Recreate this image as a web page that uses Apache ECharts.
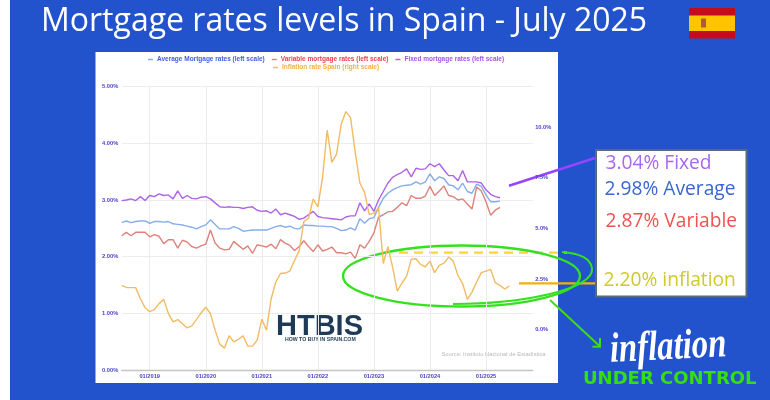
<!DOCTYPE html>
<html><head><meta charset="utf-8">
<style>html,body{margin:0;padding:0;background:#fff}#c{width:770px;height:400px}</style>
<script src="https://cdn.jsdelivr.net/npm/echarts@6/dist/echarts.min.js"></script>
</head><body><div id="c"></div>
<script>
const startYear = 2018, startMonth = 7, monthCount = 89;
const months = [];
for (let i = 0; i < monthCount; i++) {
  const m = (startMonth - 1 + i) % 12 + 1, y = startYear + Math.floor((startMonth - 1 + i) / 12);
  months.push((m < 10 ? '0' : '') + m + '/' + y);
}
const fixedRates = [2.99,3.00,3.02,2.99,3.06,2.99,3.08,3.06,3.11,3.08,
3.09,3.02,3.16,3.03,3.08,3.03,3.02,3.05,3.06,3.02,
2.95,2.88,2.87,2.88,2.87,2.87,2.85,2.87,2.88,2.82,
2.80,2.81,2.77,2.84,2.74,2.77,2.74,2.71,2.66,2.68,
2.74,2.80,2.71,2.69,2.68,2.67,2.66,2.65,2.70,2.72,
2.72,2.95,2.81,2.93,2.80,3.00,3.15,3.30,3.40,3.45,
3.49,3.55,3.41,3.56,3.54,3.55,3.64,3.59,3.64,3.53,
3.43,3.43,3.34,3.52,3.32,3.32,3.32,3.30,3.18,3.10,3.06,3.04];
const averageRates = [2.60,2.63,2.60,2.62,2.63,2.63,2.59,2.62,2.62,2.61,
2.62,2.58,2.57,2.56,2.54,2.52,2.49,2.53,2.56,2.65,
2.57,2.49,2.49,2.49,2.53,2.50,2.45,2.46,2.47,2.47,
2.47,2.47,2.50,2.53,2.55,2.52,2.54,2.50,2.49,2.56,
2.55,2.55,2.54,2.54,2.53,2.53,2.50,2.46,2.47,2.51,
2.47,2.67,2.59,2.67,2.69,2.87,3.03,3.12,3.18,3.22,
3.25,3.26,3.27,3.32,3.28,3.32,3.46,3.34,3.41,3.38,
3.27,3.25,3.18,3.30,3.15,3.12,3.28,3.24,3.09,2.97,2.97,2.98];
const variableRates = [2.37,2.43,2.37,2.43,2.43,2.43,2.35,2.39,2.36,2.23,
2.30,2.30,2.15,2.29,2.26,2.18,2.15,2.19,2.22,2.47,
2.24,2.15,2.12,2.13,2.27,2.20,2.13,2.19,2.06,2.21,
2.19,2.17,2.22,2.14,2.30,2.24,2.20,2.11,2.18,2.28,
2.18,2.09,2.21,2.10,2.13,2.17,2.07,2.07,2.05,2.08,
1.97,2.21,2.15,2.27,2.42,2.70,2.74,2.79,2.80,2.87,
2.95,2.90,3.08,3.03,3.03,3.07,3.24,3.08,3.16,3.25,
3.08,3.06,3.00,3.02,2.93,2.84,3.23,3.16,2.97,2.73,2.82,2.87];
const inflationRates = [2.18,2.08,2.07,2.07,1.52,1.08,0.88,0.98,1.28,1.49,
0.79,0.38,0.49,0.29,0.08,0.18,0.49,0.82,1.10,0.79,
-0.03,-0.72,-0.92,-0.31,-0.61,-0.48,-0.31,-0.82,-0.82,-0.53,
0.51,-0.03,1.52,2.35,2.77,2.79,2.89,3.41,3.90,5.33,
5.50,6.45,6.06,7.52,9.85,8.26,8.67,10.15,10.77,10.47,
8.75,7.24,6.78,5.68,5.75,6.00,3.26,4.10,3.08,1.90,
2.30,2.63,3.48,3.50,3.22,3.10,3.38,2.81,3.17,3.28,
3.58,3.38,2.67,2.27,1.49,1.85,2.35,2.81,2.89,2.97,2.30,2.18,2.00,2.15];
const rightTicks = [0, 2.5, 5, 7.5, 10];

const names = {
  avg: 'Average Mortgage rates (left scale)',
  vari: 'Variable mortgage rates (left scale)',
  fix: 'Fixed mortgage rates (left scale)',
  inf: 'Inflation rate Spain (right scale)'
};
const colors = { avg: '#85aeea', vari: '#de827a', fix: '#ae62e8', inf: '#f2bb62' };
const legendText = { avg: '#3f5fd8', vari: '#e8434f', fix: '#a555e8', inf: '#f2b045' };
const tickFont = { fontFamily: 'Liberation Sans', fontSize: 5.7, fontWeight: 'bold', color: '#4a44c8' };
const isJan = (i, v) => v.slice(0, 2) === '01';

function line(key, data, axis) {
  return { name: names[key], type: 'line', data, yAxisIndex: axis, showSymbol: false, symbol: 'none', z: axis ? 3 : 2,
    lineStyle: { color: colors[key], width: 1.4 }, itemStyle: { color: colors[key] }, animation: false };
}
function legendOf(list, left, top) {
  return { left, top, itemWidth: 5, itemHeight: 1.5, itemGap: 7, icon: 'rect', padding: 0,
    data: list.map(k => ({ name: names[k], textStyle: { color: legendText[k], fontSize: 6.5, fontWeight: 'bold', fontFamily: 'Liberation Sans', padding: [0, 0, 0, -1] } })) };
}
const T = (text, x, y, font, fill, extra) => ({ type: 'text', x, y, style: Object.assign({ text, font, fill, verticalAlign: 'middle' }, extra || {}) });
const green = '#35e01e';

const chart = echarts.init(document.getElementById('c'), null, { renderer: 'canvas' });
chart.setOption({
  animation: false,
  backgroundColor: '#fff',
  title: { text: 'Mortgage rates levels in Spain - July 2025', left: 36, top: 1,
    textStyle: { color: '#fff', fontFamily: 'Open Sans', fontWeight: 'normal', fontSize: 32 } },
  legend: [legendOf(['avg', 'vari', 'fix'], 148, 56), legendOf(['inf'], 273, 64)],
  grid: { left: 121.7, right: 770 - 532.7, top: 86.7, bottom: 30, containLabel: false },
  xAxis: { type: 'category', data: months, boundaryGap: false,
    axisLine: { lineStyle: { color: '#c4c4c4', width: 1.4 } }, axisTick: { show: false },
    axisLabel: Object.assign({ interval: isJan, margin: 3 }, tickFont),
    splitLine: { show: true, interval: isJan, lineStyle: { color: '#ececec', width: 1 } } },
  yAxis: [
    { type: 'value', min: 0, max: 5, interval: 1, axisLine: { show: false }, axisTick: { show: false },
      axisLabel: Object.assign({ margin: 3.5, formatter: v => v.toFixed(2) + '%' }, tickFont),
      splitLine: { lineStyle: { color: '#ececec', width: 1 } } },
    { type: 'value', min: -2, max: 12, position: 'right', axisLine: { show: false }, axisTick: { show: false },
      axisLabel: Object.assign({ margin: 2.5, customValues: rightTicks, formatter: v => v.toFixed(1) + '%' }, tickFont),
      splitLine: { show: false } }
  ],
  series: [line('avg', averageRates, 0), line('vari', variableRates, 0), line('fix', fixedRates, 0), line('inf', inflationRates, 1)],
  graphic: [
    { type: 'group', silent: true, z: -5, children: [
      { type: 'rect', shape: { x: 10, y: 0, width: 760, height: 400 }, style: { fill: '#2253cc' }, z: -5 },
      { type: 'rect', shape: { x: 95.5, y: 52, width: 462.5, height: 331 }, style: { fill: '#fff' }, z: -4 }
    ] },
    { type: 'group', silent: true, z: 20, children: [
      { type: 'rect', shape: { x: 689, y: 8, width: 46, height: 30.5 }, style: { fill: '#c60b1e' } },
      { type: 'rect', shape: { x: 689, y: 15.5, width: 46, height: 15.5 }, style: { fill: '#ffc400' } },
      { type: 'rect', shape: { x: 701, y: 18.5, width: 5, height: 9 }, style: { fill: '#ad5a3c' } },
      T('HTBIS', 276, 327, 'bold 29px "Liberation Sans"', '#1d3b57'),
      T('HOW TO BUY IN SPAIN.COM', 285, 340, 'bold 5.2px "Liberation Sans"', '#1d3b57'),
      T('Source: Instituto Nacional de Estadística', 441.5, 354.5, '5.8px "Liberation Sans"', '#b8b8b8'),
      { type: 'rect', shape: { x: 596, y: 150, width: 150.5, height: 146.5 }, style: { fill: '#fff', stroke: '#5a6b78', lineWidth: 2 } },
      T('3.04% Fixed', 605.5, 163.5, '19.2px "Open Sans"', '#a868f2'),
      T('2.98% Average', 604.5, 189.5, '19.2px "Open Sans"', '#3a66cf'),
      T('2.87% Variable', 605.5, 221.5, '19.2px "Open Sans"', '#f05252'),
      T('2.20% inflation', 603.5, 281, '19.2px "Open Sans"', '#cfc92c'),
      { type: 'line', shape: { x1: 509, y1: 185.7, x2: 595, y2: 158 }, style: { stroke: '#9545ff', lineWidth: 2.6 } },
      { type: 'line', shape: { x1: 519, y1: 283.3, x2: 595, y2: 283.3 }, style: { stroke: '#f5b000', lineWidth: 2.2 } },
      { type: 'line', shape: { x1: 399, y1: 252.7, x2: 567, y2: 252.7 }, style: { stroke: '#ffd23f', lineWidth: 2.2, lineDash: [9, 6] } },
      { type: 'ellipse', shape: { cx: 461.5, cy: 276, rx: 118.5, ry: 30.5 }, style: { fill: 'none', stroke: green, lineWidth: 2.4 } },
      { type: 'bezierCurve', shape: { x1: 453, y1: 304, cpx1: 520, cpy1: 304, cpx2: 595, cpy2: 290, x2: 592, y2: 268 }, style: { fill: 'none', stroke: green, lineWidth: 2 } },
      { type: 'bezierCurve', shape: { x1: 592, y1: 268, cpx1: 590, cpy1: 256, cpx2: 575, cpy2: 253, x2: 562, y2: 252 }, style: { fill: 'none', stroke: green, lineWidth: 2 } },
      { type: 'line', shape: { x1: 550, y1: 300, x2: 600, y2: 346.5 }, style: { stroke: '#3fdc10', lineWidth: 2 } },
      { type: 'polyline', shape: { points: [[600, 338], [600, 346.7], [592.5, 346.7]] }, style: { fill: 'none', stroke: '#3fdc10', lineWidth: 2 } },
      { type: 'text', x: 611, y: 372, scaleX: 0.78, rotation: 0.05, style: { text: 'inflation', font: 'italic bold 42px "Liberation Serif"', fill: '#fff', verticalAlign: 'bottom' } },
      { type: 'text', x: 583, y: 379, scaleX: 1.0, style: { text: 'UNDER CONTROL', font: 'bold 18px "DejaVu Sans"', fill: '#36dd12', verticalAlign: 'middle' } }
    ] }
  ]
});
</script></body></html>
